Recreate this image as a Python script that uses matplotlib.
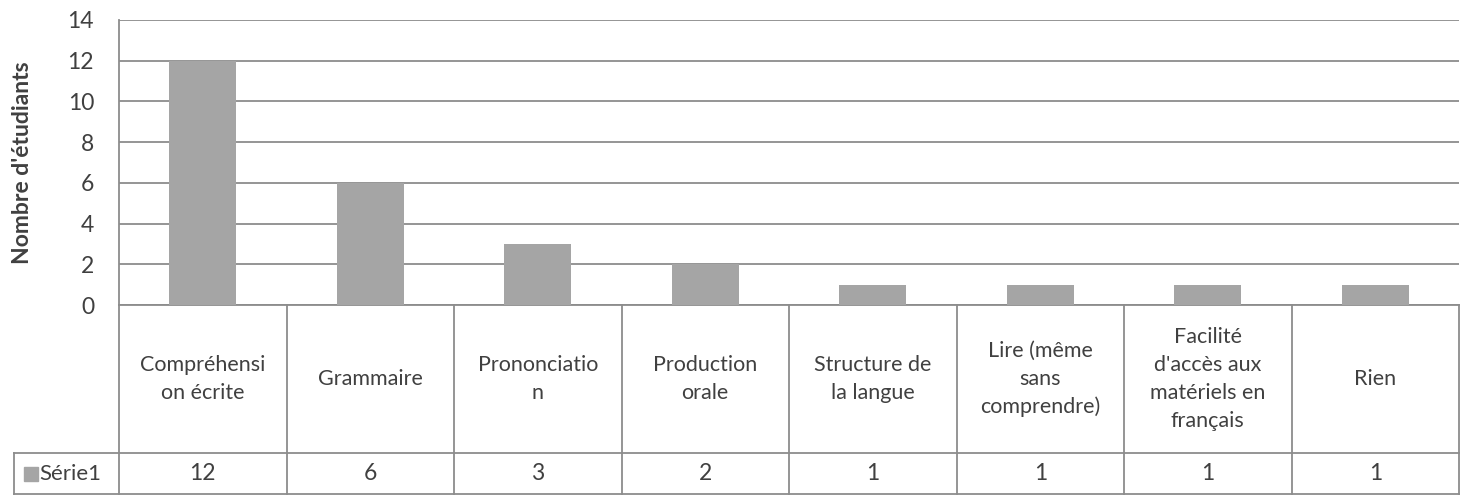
import numpy as np
import matplotlib.pyplot as plt
import matplotlib.transforms as mtransforms

categories = ["Compréhensi\non écrite", "Grammaire", "Prononciatio\nn", "Production\norale",
              "Structure de\nla langue", "Lire (même\nsans\ncomprendre)",
              "Facilité\nd'accès aux\nmatériels en\nfrançais", "Rien"]
values = [12, 6, 3, 2, 1, 1, 1, 1]
series_name = "Série1"
yticks = [0, 2, 4, 6, 8, 10, 12, 14]

plt.rcParams['font.family'] = ['Lato', 'DejaVu Sans']
txt = '#404040'
grid = '#8c8c8c'
bar_c = '#a5a5a5'

W, H = 1472, 496
fig = plt.figure(figsize=(W / 100, H / 100), dpi=100)
left, right, top, bottom = 119, 1459, 20, 305
ax = fig.add_axes([left / W, 1 - bottom / H, (right - left) / W, (bottom - top) / H])

x = np.arange(len(values))
ax.bar(x, values, width=0.4, color=bar_c, zorder=3)
ax.set_xlim(-0.5, len(values) - 0.5)
ax.set_ylim(0, 14)
ax.set_yticks(yticks)
ax.set_yticklabels([str(t) for t in yticks], fontsize=16.5, color=txt)
ax.tick_params(axis='y', length=0, pad=18)
ax.set_xticks([])
ax.yaxis.grid(True, color=grid, lw=1.3, zorder=0)
for s in ['top', 'right', 'bottom']:
    ax.spines[s].set_visible(False)
ax.spines['left'].set_color(grid)
ax.spines['left'].set_linewidth(1.3)
ax.set_ylabel("Nombre d'étudiants", fontsize=16.5, fontweight='bold', color=txt, labelpad=25)

# data table below the plot, in axes-fraction y
h = bottom - top
col_px = (right - left) / len(values)
y_row = (bottom - 453) / h
y_bot = (bottom - 494) / h
x_left_cell = -0.5 + (14 - left) / col_px
trans = mtransforms.blended_transform_factory(ax.transData, ax.transAxes)
lk = dict(color=grid, lw=1.3, transform=trans, clip_on=False)

for b in np.arange(-0.5, len(values), 1.0):
    ax.plot([b, b], [0, y_bot], **lk)
ax.plot([x_left_cell, len(values) - 0.5], [y_row, y_row], **lk)
ax.plot([x_left_cell, len(values) - 0.5], [y_bot, y_bot], **lk)
ax.plot([x_left_cell, x_left_cell], [y_row, y_bot], **lk)
ax.plot([-0.5, len(values) - 0.5], [0, 0], **lk)

for i, (c, v) in enumerate(zip(categories, values)):
    ax.text(i, y_row / 2, c, ha='center', va='center', fontsize=15.5, color=txt,
            transform=trans, linespacing=1.5)
    ax.text(i, (y_row + y_bot) / 2, str(v), ha='center', va='center', fontsize=16.5,
            color=txt, transform=trans)

ax.text(x_left_cell + 25 / col_px, (y_row + y_bot) / 2, series_name, ha='left', va='center',
        fontsize=16, color=txt, transform=trans)
ax.plot([x_left_cell + 17 / col_px], [(y_row + y_bot) / 2], marker='s', ms=9.5, color=bar_c,
        transform=trans, clip_on=False)

fig.savefig('out.png', dpi=100)
